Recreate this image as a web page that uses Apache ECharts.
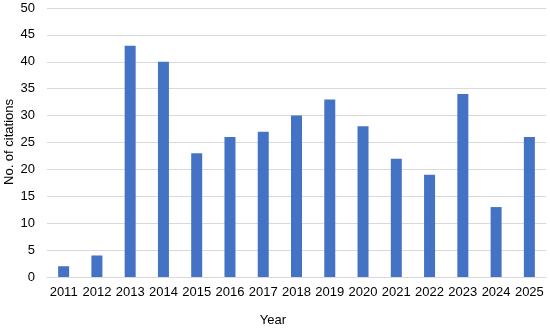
<!DOCTYPE html>
<html>
<head>
<meta charset="utf-8">
<script src="https://cdn.jsdelivr.net/npm/echarts@6/dist/echarts.min.js"></script>
<style>
html,body{margin:0;padding:0;background:#fff;}
#chart{width:550px;height:328px;}
</style>
</head>
<body>
<div id="chart"></div>
<script>
// 年份与引用次数
var years = ['2011','2012','2013','2014','2015','2016','2017','2018','2019','2020','2021','2022','2023','2024','2025'];
var citations = [2, 4, 43, 40, 23, 26, 27, 30, 33, 28, 22, 19, 34, 13, 26];
var yTitle = 'No. of citations';

var myChart = echarts.init(document.getElementById('chart'));
var option = {
    animation: false,
    textStyle: {fontFamily: 'Liberation Sans, Arial, sans-serif'},
    grid: {left: 47, right: 4, top: 8, bottom: 51, outerBoundsMode: 'none'},
    //y轴标题
    graphic: [{
        type: 'text',
        x: 9,
        y: 142,
        rotation: Math.PI / 2,
        style: {
            text: yTitle,
            fill: '#000',
            font: '13px Liberation Sans, Arial, sans-serif',
            textAlign: 'center',
            textVerticalAlign: 'middle'
        }
    }],
    xAxis: {
        type: 'category',
        data: years,
        name: 'Year',
        nameLocation: 'middle',
        nameGap: 37,
        // 标题居中于整个图表而非绘图区
        nameTextStyle: {color: '#000', fontSize: 13, padding: [0, 47, 0, 0]},
        axisTick: {show: false},
        axisLine: {lineStyle: {color: '#d9d9d9'}},
        axisLabel: {color: '#000', fontSize: 13, margin: 9, interval: 0}
    },
    yAxis: {
        type: 'value',
        min: 0,
        max: 50,
        interval: 5,
        axisLine: {show: false},
        axisTick: {show: false},
        axisLabel: {color: '#000', fontSize: 13, margin: 12},
        splitLine: {lineStyle: {color: '#d9d9d9'}}
    },
    series: [{
        type: 'bar',
        data: citations,
        barWidth: 11,
        itemStyle: {color: '#4472c4'}
    }]
};
myChart.setOption(option);
</script>
</body>
</html>
